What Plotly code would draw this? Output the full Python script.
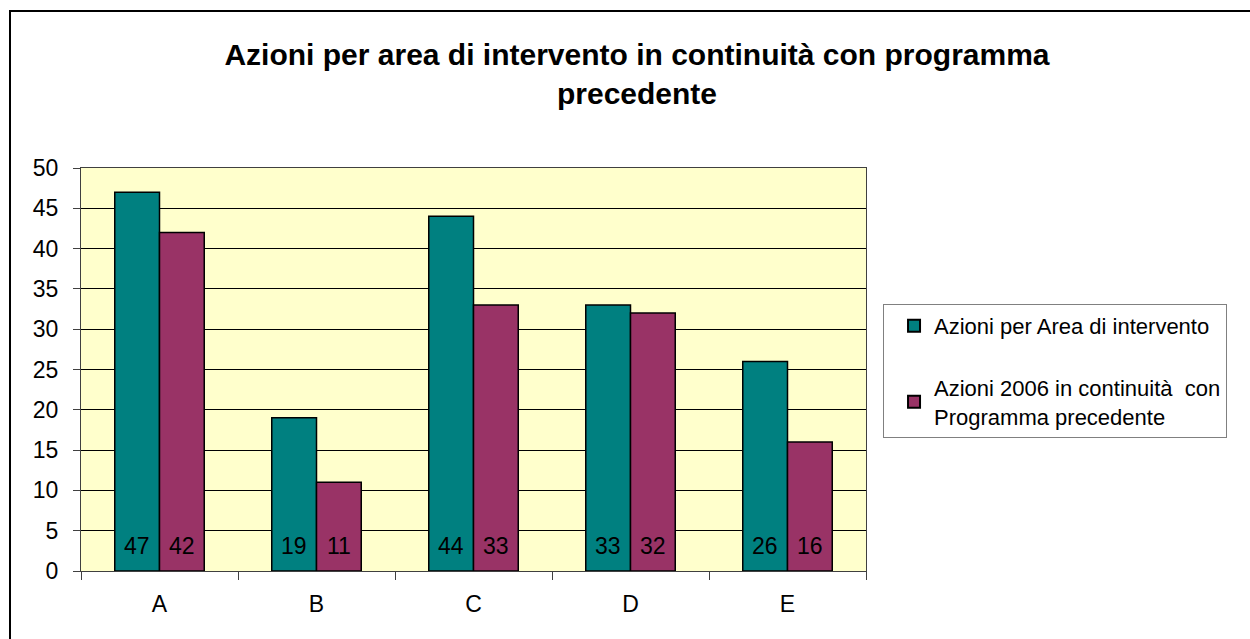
import plotly.graph_objects as go

# Data
categories = ['A', 'B', 'C', 'D', 'E']
azioni_area = [47, 19, 44, 33, 26]
azioni_continuita = [42, 11, 33, 32, 16]
series_names = [
    'Azioni per Area di intervento',
    'Azioni 2006 in continuità  con<br>Programma precedente',
]

TEAL = '#008080'
PLUM = '#993366'
FONT = 'Liberation Sans, Arial, sans-serif'

fig = go.Figure()

series = [(azioni_area, TEAL), (azioni_continuita, PLUM)]
for i, (vals, color) in enumerate(series):
    fig.add_trace(go.Bar(
        x=categories,
        y=vals,
        name=series_names[i],
        legendgroup=f'g{i}',
        marker=dict(color=color, line=dict(color='black', width=1.5)),
        hoverinfo='x+y',
    ))

# Value labels sitting near the base of each bar (Excel style)
for i, (vals, _) in enumerate(series):
    for cat, v in zip(categories, vals):
        fig.add_annotation(
            x=cat, y=0, xref='x', yref='y',
            text=str(v), showarrow=False,
            xshift=-22.5 if i == 0 else 22.5,
            yanchor='bottom', yshift=10,
            font=dict(family=FONT, size=23, color='black'),
        )

fig.update_layout(
    width=1250,
    height=639,
    barmode='group',
    bargap=0.43,
    bargroupgap=0,
    paper_bgcolor='white',
    plot_bgcolor='#FFFFCC',
    font=dict(family=FONT, color='black'),
    margin=dict(l=81, r=384, t=168, b=68),
    title=dict(
        text='<b>Azioni per area di intervento in continuità con programma<br>precedente</b>',
        font=dict(family=FONT, size=30, color='black'),
        x=637 / 1250, xanchor='center', y=0.898, yanchor='top',
    ),
    legend=dict(
        x=1.0217, xanchor='left',
        y=0.6625, yanchor='top',
        bgcolor='white',
        bordercolor='#808080',
        borderwidth=1,
        font=dict(family=FONT, size=22, color='black'),
        traceorder='grouped',
        tracegroupgap=30,
        indentation=10,
        itemsizing='constant',
    ),
    xaxis=dict(
        showgrid=False,
        ticks='outside',
        tickson='boundaries',
        ticklen=8,
        tickcolor='#404040',
        showline=True,
        linecolor='#404040',
        linewidth=1,
        mirror=True,
        tickfont=dict(family=FONT, size=23, color='black'),
        ticklabelstandoff=12,
    ),
    yaxis=dict(
        range=[0, 50],
        dtick=5,
        showgrid=True,
        gridcolor='black',
        gridwidth=1,
        zeroline=False,
        ticks='outside',
        ticklen=7,
        tickcolor='#404040',
        showline=True,
        linecolor='#404040',
        linewidth=1,
        mirror=True,
        tickfont=dict(family=FONT, size=23, color='black'),
        ticklabelstandoff=10,
    ),
)

# Outer chart border (extends beyond the right/bottom edges)
fig.add_shape(
    type='rect', xref='paper', yref='paper',
    x0=(10 - 81) / 785, x1=2.0,
    y0=-1.0, y1=(571 - 11) / 403,
    line=dict(color='black', width=2),
    fillcolor='rgba(0,0,0,0)',
    layer='above',
)

fig.write_html('out.html', config={'displayModeBar': False},
               post_script="document.body.style.margin='0px';")
